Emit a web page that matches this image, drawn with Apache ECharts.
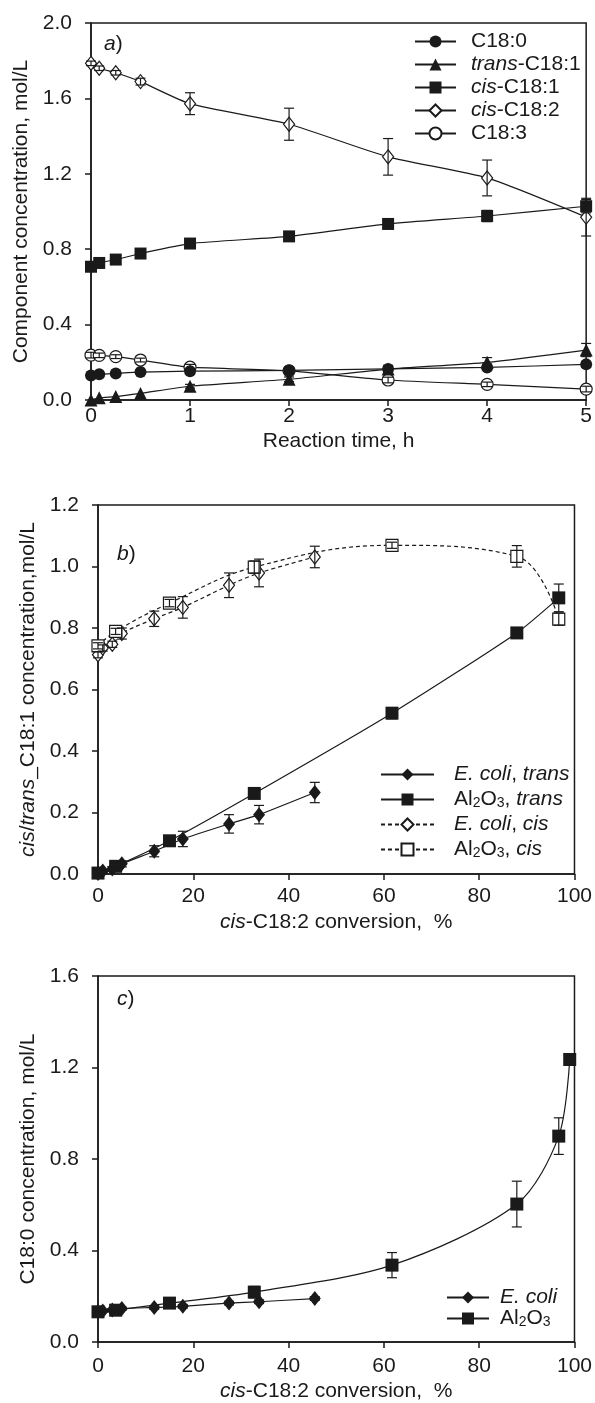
<!DOCTYPE html>
<html>
<head>
<meta charset="utf-8">
<script src="https://cdn.jsdelivr.net/npm/echarts@6/dist/echarts.min.js"></script>
<style>
  html, body { margin: 0; padding: 0; background: #fff; }
  #chart { width: 595px; height: 1403px; }
</style>
</head>
<body>
<div id="chart"></div>
<script>
// ---- panel a: concentrations vs reaction time ----
var timeH = [0, 0.083, 0.25, 0.5, 1, 2, 3, 4, 5];
var c180 = [0.13, 0.136, 0.141, 0.148, 0.153, 0.157, 0.165, 0.173, 0.189];
var c180Err = [0.01, 0.01, 0.01, 0.01, 0.01, 0.012, 0.015, 0.015, 0.015];
var transC181 = [0.0, 0.012, 0.018, 0.035, 0.073, 0.11, 0.164, 0.2, 0.265];
var transC181Err = [0, 0, 0, 0, 0.01, 0.012, 0.02, 0.025, 0.035];
var cisC181 = [0.707, 0.727, 0.745, 0.777, 0.83, 0.868, 0.934, 0.976, 1.028];
var cisC181Err = [0.01, 0.01, 0.01, 0.012, 0.012, 0.015, 0.025, 0.03, 0.035];
var cisC182 = [1.786, 1.76, 1.736, 1.689, 1.572, 1.463, 1.29, 1.178, 0.97];
var cisC182Err = [0.012, 0.012, 0.012, 0.018, 0.058, 0.085, 0.097, 0.095, 0.1];
var c183 = [0.238, 0.237, 0.23, 0.212, 0.174, 0.155, 0.106, 0.083, 0.058];
var c183Err = [0.015, 0.012, 0.01, 0.01, 0.015, 0.012, 0.015, 0.012, 0.015];

// ---- panel b: cis/trans C18:1 vs conversion ----
var convEcoli = [0, 1.0, 3.0, 5.0, 11.8, 17.8, 27.5, 33.8, 45.5];
var ecoliTrans = [0.002, 0.01, 0.016, 0.033, 0.074, 0.114, 0.163, 0.193, 0.265];
var ecoliTransErr = [0.005, 0.005, 0.008, 0.01, 0.018, 0.025, 0.03, 0.03, 0.033];
var ecoliCis = [0.713, 0.735, 0.747, 0.782, 0.83, 0.867, 0.939, 0.979, 1.031];
var ecoliCisErr = [0.01, 0.01, 0.01, 0.018, 0.025, 0.035, 0.04, 0.045, 0.035];
var convAl = [0, 3.7, 15.0, 32.8, 61.7, 87.9, 96.7];
var alTrans = [0.003, 0.025, 0.108, 0.262, 0.523, 0.784, 0.898];
var alTransErr = [0.005, 0.01, 0.01, 0.012, 0.018, 0.008, 0.045];
var alCis = [0.742, 0.789, 0.881, 0.998, 1.069, 1.033, 0.829];
var alCisErr = [0.01, 0.01, 0.012, 0.02, 0.01, 0.035, 0.02];

// ---- panel c: C18:0 vs conversion ----
var ecoliC180 = [0.132, 0.136, 0.14, 0.146, 0.151, 0.156, 0.17, 0.176, 0.19];
var ecoliC180Err = [0.006, 0.006, 0.006, 0.006, 0.008, 0.008, 0.008, 0.008, 0.008];
var convAlC = [0, 3.7, 15.0, 32.8, 61.7, 87.9, 96.7, 99.0];
var alC180 = [0.132, 0.139, 0.17, 0.218, 0.336, 0.603, 0.9, 1.235];
var alC180Err = [0.008, 0.008, 0.01, 0.025, 0.055, 0.1, 0.08, 0.01];

var FONT = 'Liberation Sans, Arial, sans-serif';
var INK = '#1a1a1a';
var FS = 21;

var rich = {
    n: { fontFamily: FONT, fontSize: FS, fontWeight: 'normal', color: INK, lineHeight: FS },
    i: { fontFamily: FONT, fontSize: FS, fontWeight: 'normal', color: INK, fontStyle: 'italic', lineHeight: FS },
    s: { fontFamily: FONT, fontSize: 14, fontWeight: 'normal', color: INK, lineHeight: 9, verticalAlign: 'bottom' }
};

var labels = {
    'C18:0': '{n|C18:0}',
    'trans-C18:1': '{i|trans}{n|-C18:1}',
    'cis-C18:1': '{i|cis}{n|-C18:1}',
    'cis-C18:2': '{i|cis}{n|-C18:2}',
    'C18:3': '{n|C18:3}',
    'E. coli, trans': '{i|E. coli}{n|, }{i|trans}',
    'Al2O3, trans': '{n|Al}{s|2}{n|O}{s|3}{n|, }{i|trans}',
    'E. coli, cis': '{i|E. coli}{n|, }{i|cis}',
    'Al2O3, cis': '{n|Al}{s|2}{n|O}{s|3}{n|, }{i|cis}',
    'E. coli': '{i|E. coli}',
    'Al2O3': '{n|Al}{s|2}{n|O}{s|3}'
};

function pairs(xs, ys) {
    return xs.map(function (x, k) { return [x, ys[k]]; });
}

function lineSeries(name, gi, xs, ys, symbol, size, filled, dashed, smooth) {
    return {
        name: name,
        type: 'line',
        xAxisIndex: gi,
        yAxisIndex: gi,
        data: pairs(xs, ys),
        symbol: symbol,
        symbolSize: size,
        showAllSymbol: true,
        smooth: smooth,
        clip: false,
        z: 3,
        lineStyle: { color: INK, width: 1.2, type: dashed ? [4, 3] : 'solid' },
        itemStyle: { color: filled ? INK : '#fff', borderColor: INK, borderWidth: filled ? 0 : 1.2 }
    };
}

function errorBars(gi, xs, ys, es) {
    var d = [];
    xs.forEach(function (x, k) { if (es[k] > 0) d.push([x, ys[k], es[k]]); });
    return {
        type: 'custom',
        xAxisIndex: gi,
        yAxisIndex: gi,
        silent: true,
        clip: false,
        z: 5,
        data: d,
        encode: { x: 0, y: 1 },
        renderItem: function (params, api) {
            var x = api.value(0), y = api.value(1), e = api.value(2);
            var hi = api.coord([x, y + e]);
            var lo = api.coord([x, y - e]);
            var w = 5;
            var st = { stroke: INK, lineWidth: 1.2 };
            return {
                type: 'group',
                children: [
                    { type: 'line', shape: { x1: hi[0], y1: hi[1], x2: lo[0], y2: lo[1] }, style: st },
                    { type: 'line', shape: { x1: hi[0] - w, y1: hi[1], x2: hi[0] + w, y2: hi[1] }, style: st },
                    { type: 'line', shape: { x1: lo[0] - w, y1: lo[1], x2: lo[0] + w, y2: lo[1] }, style: st }
                ]
            };
        }
    };
}

function xAxis(gi, max, interval, name, margin, gap) {
    return {
        type: 'value', gridIndex: gi, min: 0, max: max, interval: interval,
        name: name, nameLocation: 'middle', nameGap: gap,
        nameTextStyle: { fontFamily: FONT, fontSize: FS, color: INK, rich: rich },
        axisLine: { onZero: false, lineStyle: { color: INK, width: 1.5 } },
        axisTick: { show: true, inside: false, length: 6, lineStyle: { color: INK, width: 1.5 } },
        axisLabel: { fontFamily: FONT, fontSize: FS, color: INK, margin: margin },
        splitLine: { show: false }
    };
}

function yAxis(gi, max, interval, name, margin, gap) {
    return {
        type: 'value', gridIndex: gi, min: 0, max: max, interval: interval,
        name: name, nameLocation: 'middle', nameGap: gap, nameRotate: 90,
        nameTextStyle: { fontFamily: FONT, fontSize: FS, color: INK, rich: rich },
        axisLine: { onZero: false, lineStyle: { color: INK, width: 1.5 } },
        axisTick: { show: true, inside: false, length: 6, lineStyle: { color: INK, width: 1.5 } },
        axisLabel: {
            fontFamily: FONT, fontSize: FS, color: INK, margin: margin,
            formatter: function (v) { return v.toFixed(1); }
        },
        splitLine: { show: false }
    };
}

function legend(names, left, top, itemWidth, gap, textPad) {
    return {
        data: names,
        orient: 'vertical',
        left: left,
        top: top,
        itemWidth: itemWidth,
        itemHeight: 15,
        itemGap: gap,
        selectedMode: false,
        backgroundColor: '#fff',
        padding: 0,
        formatter: function (n) { return labels[n]; },
        textStyle: { fontFamily: FONT, fontSize: FS, color: INK, rich: rich, padding: [0, 0, 0, textPad] }
    };
}

function panelTitle(letter, left, top) {
    return {
        text: '{i|' + letter + '}{n|)}',
        left: left,
        top: top,
        padding: 0,
        textStyle: { fontWeight: 'normal', rich: rich }
    };
}

var gridStyle = { show: true, borderColor: INK, borderWidth: 1.5, backgroundColor: 'transparent' };

var chart = echarts.init(document.getElementById('chart'), null, { renderer: 'canvas' });

var option = {
    backgroundColor: '#fff',
    animation: false,
    title: [
        panelTitle('a', 104, 34),
        panelTitle('b', 117, 544),
        panelTitle('c', 117, 989)
    ],
    grid: [
        Object.assign({ left: 91, width: 502, top: 23, height: 377 }, gridStyle),
        Object.assign({ left: 98, width: 479, top: 505, height: 369 }, gridStyle),
        Object.assign({ left: 98, width: 479, top: 976, height: 367 }, gridStyle)
    ],
    xAxis: [
        xAxis(0, 5, 1, '{n|Reaction time, h}', 6, 31),
        xAxis(1, 100, 20, '{i|cis}{n|-C18:2 conversion,  %}', 12, 38),
        xAxis(2, 100, 20, '{i|cis}{n|-C18:2 conversion,  %}', 14, 39)
    ],
    yAxis: [
        yAxis(0, 2.0, 0.4, '{n|Component concentration, mol/L}', 19, 57),
        yAxis(1, 1.2, 0.2, '{i|cis}{n|/}{i|trans}{n|_C18:1 concentration,mol/L}', 19, 57),
        yAxis(2, 1.6, 0.4, '{n|C18:0 concentration, mol/L}', 19, 57)
    ],
    legend: [
        legend(['C18:0', 'trans-C18:1', 'cis-C18:1', 'cis-C18:2', 'C18:3'], 414, 31, 41, 2, 10),
        legend(['E. coli, trans', 'Al2O3, trans', 'E. coli, cis', 'Al2O3, cis'], 380, 764, 53, 4, 15),
        legend(['E. coli', 'Al2O3'], 446, 1287, 42, 0, 6)
    ],
    series: [
        lineSeries('C18:3', 0, timeH, c183, 'circle', 12, false, false, 0.2),
        lineSeries('C18:0', 0, timeH, c180, 'circle', 12, true, false, 0.2),
        lineSeries('trans-C18:1', 0, timeH, transC181, 'triangle', 13, true, false, 0.2),
        lineSeries('cis-C18:1', 0, timeH, cisC181, 'rect', 12, true, false, 0.2),
        lineSeries('cis-C18:2', 0, timeH, cisC182, 'diamond', [11, 14], false, false, 0.2),
        errorBars(0, timeH, c183, c183Err),
        errorBars(0, timeH, c180, c180Err),
        errorBars(0, timeH, transC181, transC181Err),
        errorBars(0, timeH, cisC181, cisC181Err),
        errorBars(0, timeH, cisC182, cisC182Err),

        lineSeries('E. coli, cis', 1, convEcoli, ecoliCis, 'diamond', [11, 14], false, true, 0.3),
        lineSeries('Al2O3, cis', 1, convAl, alCis, 'rect', 12, false, true, 0.4),
        lineSeries('E. coli, trans', 1, convEcoli, ecoliTrans, 'diamond', [12, 15], true, false, 0.2),
        lineSeries('Al2O3, trans', 1, convAl, alTrans, 'rect', 13, true, false, 0.2),
        errorBars(1, convEcoli, ecoliCis, ecoliCisErr),
        errorBars(1, convAl, alCis, alCisErr),
        errorBars(1, convEcoli, ecoliTrans, ecoliTransErr),
        errorBars(1, convAl, alTrans, alTransErr),

        lineSeries('E. coli', 2, convEcoli, ecoliC180, 'diamond', [12, 15], true, false, 0.2),
        lineSeries('Al2O3', 2, convAlC, alC180, 'rect', 13, true, false, 0.3),
        errorBars(2, convEcoli, ecoliC180, ecoliC180Err),
        errorBars(2, convAlC, alC180, alC180Err)
    ]
};

chart.setOption(option);
</script>
</body>
</html>
